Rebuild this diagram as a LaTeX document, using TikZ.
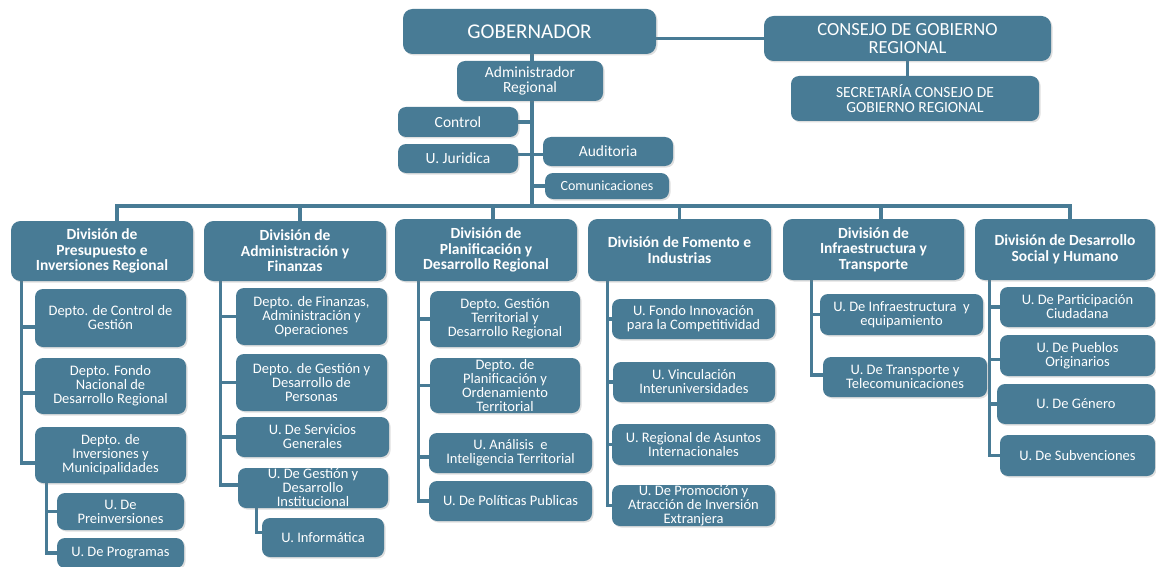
\documentclass[tikz,border=0pt]{standalone}
\usepackage{fontspec}
\setmainfont{Carlito}
\usetikzlibrary{shadows,backgrounds}
\definecolor{org}{HTML}{487B95}

\tikzset{
  unit/.style={fill=org, text=white, rounded corners=8pt, align=center, inner sep=0pt,
    drop shadow={opacity=0.25, shadow xshift=1.5pt, shadow yshift=-1.5pt}},
  ln/.style={draw=org, line width=3.3pt},
  ftop/.style={font=\fontsize{21}{22}\selectfont},
  fcons/.style={font=\fontsize{18.5}{17.5}\selectfont},
  fsec/.style={font=\fontsize{15.5}{15}\selectfont},
  fadm/.style={font=\fontsize{15.5}{15.5}\selectfont},
  fcom/.style={font=\fontsize{14}{14}\selectfont},
  fdiv/.style={font=\bfseries\fontsize{15.5}{15.5}\selectfont, rounded corners=9.5pt},
  fsub/.style={font=\fontsize{14.5}{14}\selectfont},
}

% \ubox{name}{style}{x1}{y1}{x2}{y2}{text}: a box given by its corners
\newcommand{\ubox}[7]{%
  \node[unit,#2,minimum width={(#5-#3)*1pt},minimum height={(#6-#4)*1pt}]
    (#1) at ({(#3+#5)/2},{(#4+#6)/2}) {#7};}

\begin{document}
\begin{tikzpicture}[x=1pt,y=-1pt]
\useasboundingbox (0,0) rectangle (1156,567);

% top level
\ubox{gob}{ftop,rounded corners=9.5pt}{403}{9}{656}{54}{GOBERNADOR}
\ubox{cons}{fcons,rounded corners=9.5pt}{764}{16}{1051}{61}{CONSEJO DE GOBIERNO\\REGIONAL}
\ubox{sec}{fsec}{791}{76}{1039}{121}{SECRETARÍA CONSEJO DE\\GOBIERNO REGIONAL}
\ubox{adm}{fadm}{457}{61}{603}{101}{Administrador\\Regional}
\ubox{ctrl}{fadm}{398}{107}{518}{137}{Control}
\ubox{jur}{fadm}{398}{144}{518}{173}{U. Juridica}
\ubox{aud}{fadm}{543}{137}{673}{166}{Auditoria}
\ubox{com}{fcom}{545}{173}{669}{199}{Comunicaciones}

% divisions
\ubox{d1}{fdiv}{11}{221}{193}{281}{División de\\Presupuesto e\\Inversiones Regional}
\ubox{d2}{fdiv}{204}{221}{386}{281}{División de\\Administración y\\Finanzas}
\ubox{d3}{fdiv}{395}{219}{577}{281}{División de\\Planificación y\\Desarrollo Regional}
\ubox{d4}{fdiv}{588}{219}{771}{281}{División de Fomento e\\Industrias}
\ubox{d5}{fdiv}{783}{219}{964}{280}{División de\\Infraestructura y\\Transporte}
\ubox{d6}{fdiv}{975}{219}{1155}{280}{División de Desarrollo\\Social y Humano}

% units of each division
\ubox{c11}{fsub}{35}{289}{186}{347}{Depto. de Control de\\Gestión}
\ubox{c12}{fsub}{35}{358}{186}{414}{Depto. Fondo\\Nacional de\\Desarrollo Regional}
\ubox{c13}{fsub}{35}{427}{186}{483}{Depto. de\\Inversiones y\\Municipalidades}
\ubox{c131}{fsub}{57}{493}{184}{530}{U. De\\Preinversiones}
\ubox{c132}{fsub}{57}{538}{184}{568}{U. De Programas}

\ubox{c21}{fsub}{236}{288}{387}{345}{Depto. de Finanzas,\\Administración y\\Operaciones}
\ubox{c22}{fsub}{236}{354}{387}{411}{Depto. de Gestión y\\Desarrollo de\\Personas}
\ubox{c23}{fsub}{236}{417}{389}{457}{U. De Servicios\\Generales}
\ubox{c24}{fsub}{238}{468}{388}{508}{U. De Gestión y\\Desarrollo\\Institucional}
\ubox{c241}{fsub}{262}{518}{384}{557}{U. Informática}

\ubox{c31}{fsub}{430}{291}{580}{347}{Depto. Gestión\\Territorial y\\Desarrollo Regional}
\ubox{c32}{fsub}{430}{358}{580}{413}{Depto. de\\Planificación y\\Ordenamiento\\Territorial}
\ubox{c33}{fsub}{429}{433}{592}{473}{U. Análisis\ \ e\\Inteligencia Territorial}
\ubox{c34}{fsub}{429}{481}{592}{521}{U. De Políticas Publicas}

\ubox{c41}{fsub}{612}{299}{775}{339}{U. Fondo Innovación\\para la Competitividad}
\ubox{c42}{fsub}{613}{362}{775}{402}{U. Vinculación\\Interuniversidades}
\ubox{c43}{fsub}{612}{424}{775}{465}{U. Regional de Asuntos\\Internacionales}
\ubox{c44}{fsub}{612}{485}{775}{526}{U. De Promoción y\\Atracción de Inversión\\Extranjera}

\ubox{c51}{fsub}{820}{294}{983}{335}{U. De Infraestructura\ \ y\\equipamiento}
\ubox{c52}{fsub}{823}{357}{987}{397}{U. De Transporte y\\Telecomunicaciones}

\ubox{c61}{fsub}{1000}{287}{1155}{327}{U. De Participación\\Ciudadana}
\ubox{c62}{fsub}{1000}{335}{1155}{376}{U. De Pueblos\\Originarios}
\ubox{c63}{fsub}{997}{384}{1155}{424}{U. De Género}
\ubox{c64}{fsub}{1000}{435}{1155}{476}{U. De Subvenciones}

% white page and connectors, kept behind the boxes
\begin{scope}[on background layer]
  \fill[white] (0,0) rectangle (1156,567);
  \coordinate (bus) at (532,206);
  \draw[ln] (cons.west -| gob.east) -- (cons.west);
  \draw[ln] (cons.south) -- (sec.north -| cons.south);
  \draw[ln] ([xshift=2.5pt]gob.south) -- (bus);
  \draw[ln] (ctrl.east) -- (ctrl.east -| bus);
  \draw[ln] ([yshift=4pt]jur.east) -- ([yshift=4pt]jur.east -| aud.west);
  \draw[ln] (com.west) -- (com.west -| bus);

  % bus to the divisions
  \draw[ln] ([xshift=15pt]d1.north) |- (bus) -| ([xshift=5pt]d6.north);
  \draw[ln] ([xshift=5pt]d2.north) -- ([xshift=5pt]d2.north |- bus);
  \draw[ln] ([xshift=7pt]d3.north) -- ([xshift=7pt]d3.north |- bus);
  \draw[ln] (d4.north) -- (d4.north |- bus);
  \draw[ln] ([xshift=7.5pt]d5.north) -- ([xshift=7.5pt]d5.north |- bus);

  % spines under each division
  \coordinate (s1) at ([xshift=11pt]d1.south west);
  \coordinate (s13) at ([xshift=12pt]c13.south west);
  \coordinate (s2) at ([xshift=17pt]d2.south west);
  \coordinate (s24) at ([xshift=19pt]c24.south west);
  \coordinate (s3) at ([xshift=24pt]d3.south west);
  \coordinate (s4) at ([xshift=20pt]d4.south west);
  \coordinate (s5) at ([xshift=29pt]d5.south west);
  \coordinate (s6) at ([xshift=15pt]d6.south west);

  \draw[ln] ([yshift=-9pt]c11.west) -| (s1);
  \draw[ln] ([yshift=-7pt]c12.west) -| (s1);
  \draw[ln] ([yshift=-8pt]c13.west) -| (s1);
  \draw[ln] (c131.west) -| (s13);
  \draw[ln] (c132.west) -| (s13);

  \draw[ln] (c21.west) -| (s2);
  \draw[ln] (c22.west) -| (s2);
  \draw[ln] (c23.west) -| (s2);
  \draw[ln] ([yshift=3pt]c24.west) -| (s2);
  \draw[ln] ([yshift=5pt]c241.west) -| (s24);

  \draw[ln] (c31.west) -| (s3);
  \draw[ln] (c32.west) -| (s3);
  \draw[ln] ([yshift=-4pt]c33.west) -| (s3);
  \draw[ln] (c34.west) -| (s3);

  \draw[ln] (c41.west) -| (s4);
  \draw[ln] (c42.west) -| (s4);
  \draw[ln] (c43.west) -| (s4);
  \draw[ln] (c44.west) -| (s4);

  \draw[ln] (c51.west) -| (s5);
  \draw[ln] ([yshift=2pt]c52.west) -| (s5);

  \draw[ln] (c61.west) -| (s6);
  \draw[ln] ([yshift=-4pt]c62.west) -| (s6);
  \draw[ln] (c63.west) -| (s6);
  \draw[ln] (c64.west) -| (s6);
\end{scope}
\end{tikzpicture}
\end{document}
